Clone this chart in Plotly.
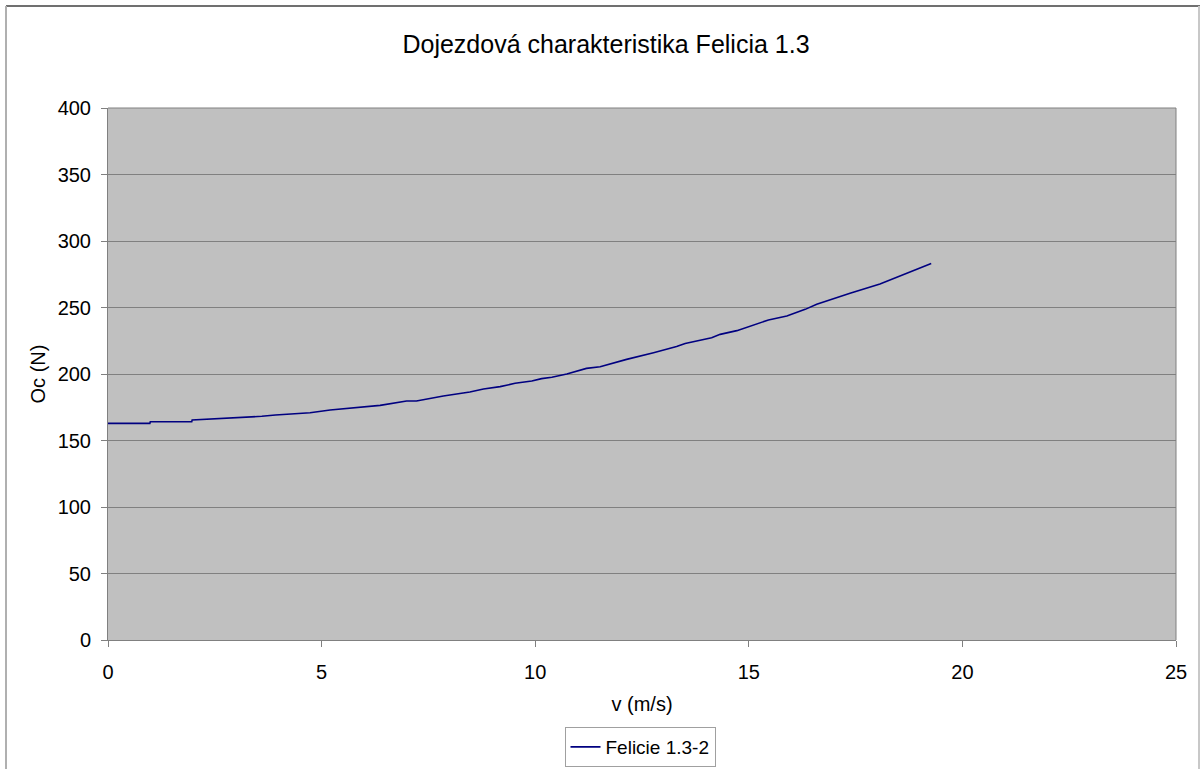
import plotly.graph_objects as go

# Data
v_ms = [0.0, 0.98, 0.99, 1.96, 1.97, 2.62, 3.05, 3.6, 3.92, 4.38, 4.73, 5.2, 5.51, 5.82, 6.08, 6.37,
        6.99, 7.22, 7.85, 8.47, 8.79, 9.18, 9.53, 9.92, 10.15, 10.39, 10.74, 11.2, 11.52, 12.14,
        12.77, 13.31, 13.51, 14.13, 14.33, 14.72, 15.46, 15.89, 16.32, 16.59, 17.37, 17.76,
        18.07, 19.27]
oc_n = [162.9, 162.9, 164.1, 164.1, 165.4, 166.4, 167.2, 168.2, 169.2, 170.0, 170.9, 172.9, 173.7,
        174.7, 175.7, 176.4, 179.7, 179.7, 183.5, 186.5, 188.7, 190.5, 193.0, 194.7, 196.5, 197.5,
        200.0, 204.2, 205.5, 211.0, 216.0, 220.6, 223.0, 227.3, 229.8, 232.6, 240.6, 243.6, 248.6,
        252.4, 260.7, 264.9, 267.7, 283.0]

x_ticks = [0, 5, 10, 15, 20, 25]
y_ticks = [0, 50, 100, 150, 200, 250, 300, 350, 400]

FONT = "Liberation Sans, Arial, sans-serif"

fig = go.Figure()
fig.add_trace(go.Scatter(
    x=v_ms, y=oc_n, mode="lines", name="Felicie 1.3-2",
    line=dict(color="#000080", width=1.6),
))

L, R, T, B = 108, 25, 108, 129
W, H = 1201, 769
pw, ph = W - L - R, H - T - B

def px_to_paper_x(px):
    return (px - L) / pw

def px_to_paper_y(py):
    return (H - B - py) / ph

fig.update_layout(
    width=W, height=H,
    margin=dict(l=L, r=R, t=T, b=B, autoexpand=False),
    paper_bgcolor="white",
    plot_bgcolor="#C0C0C0",
    font=dict(family=FONT, size=20, color="black"),
    title=dict(text="Dojezdová charakteristika Felicia 1.3", x=606 / W, xref="container",
               xanchor="center", y=1 - 44 / H, yanchor="middle",
               font=dict(size=25, family=FONT)),
    showlegend=True,
    legend=dict(orientation="h", x=px_to_paper_x(640), xanchor="center",
                y=px_to_paper_y(767), yanchor="bottom",
                bordercolor="#A0A0A0", borderwidth=1, bgcolor="white",
                font=dict(size=19, family=FONT)),
    xaxis=dict(range=[0, 25], tickvals=x_ticks, showgrid=False, zeroline=False,
               showline=True, linecolor="#808080", linewidth=1,
               ticks="outside", ticklen=6, tickcolor="#808080", ticklabelstandoff=8,
               title=dict(text="v (m/s)", standoff=14, font=dict(size=20))),
    yaxis=dict(range=[0, 400], tickvals=y_ticks, showgrid=True, gridcolor="#808080",
               gridwidth=1, zeroline=False, showline=True, linecolor="#808080", linewidth=1,
               ticks="outside", ticklen=6, tickcolor="#808080", ticklabelstandoff=6,
               title=dict(text="Oc (N)", standoff=6, font=dict(size=20))),
    shapes=[
        dict(type="line", xref="paper", yref="paper",
             x0=px_to_paper_x(6), x1=px_to_paper_x(1200),
             y0=px_to_paper_y(6), y1=px_to_paper_y(6),
             line=dict(color="#707070", width=2)),
        dict(type="line", xref="paper", yref="paper",
             x0=px_to_paper_x(6), x1=px_to_paper_x(6),
             y0=px_to_paper_y(6), y1=px_to_paper_y(780),
             line=dict(color="#B0B0B0", width=2)),
        dict(type="line", xref="paper", yref="paper",
             x0=px_to_paper_x(1199), x1=px_to_paper_x(1199),
             y0=px_to_paper_y(6), y1=px_to_paper_y(780),
             line=dict(color="#C8C8C8", width=2)),
        dict(type="line", xref="paper", yref="paper",
             x0=0, x1=1, y0=1, y1=1, line=dict(color="#808080", width=1)),
        dict(type="line", xref="paper", yref="paper",
             x0=1, x1=1, y0=0, y1=1, line=dict(color="#808080", width=1)),
    ],
)

fig.write_html("out.html", config={"displayModeBar": False},
               post_script="document.body.style.margin='0';")
